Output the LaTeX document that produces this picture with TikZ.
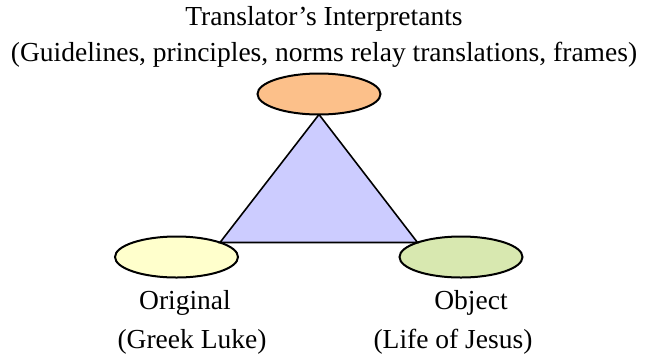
\documentclass[tikz,border=0pt]{standalone}
\usepackage{fontspec}
\setmainfont{Liberation Serif}
\usetikzlibrary{shapes.geometric}
\definecolor{interpfill}{RGB}{252,192,138}
\definecolor{origfill}{RGB}{255,255,204}
\definecolor{objfill}{RGB}{216,232,176}
\definecolor{trifill}{RGB}{204,204,255}
\tikzset{
  vertex/.style={ellipse, draw=black, line width=2pt, minimum width=123pt,
    minimum height=41pt, inner sep=0pt, outer sep=0pt},
  caption/.style={anchor=base, inner sep=0pt, font=\fontsize{27.5}{32}\selectfont}
}
\begin{document}
\begin{tikzpicture}[x=1pt,y=-1pt]
  \useasboundingbox (0,0) rectangle (645,357);
  % the three corners of the sign
  \node[vertex, fill=interpfill] (T) at (319,94) {};
  \node[vertex, fill=origfill] (L) at (176.5,257) {};
  \node[vertex, fill=objfill] (R) at (461,257) {};
  % triangle joining them
  \filldraw[fill=trifill, draw=black, line width=1.6pt, line join=miter]
    (T.south) -- (L.north east) -- (R.north west) -- cycle;
  % labels
  \node[caption] (t1) at (324,25) {Translator’s Interpretants};
  \node[caption] (t2) at (324,61) {(Guidelines, principles, norms relay translations, frames)};
  \node[caption] (l1) at (185,309) {Original};
  \node[caption] (l2) at (192,348) {(Greek Luke)};
  \node[caption] (r1) at (471,309) {Object};
  \node[caption] (r2) at (453,348) {(Life of Jesus)};
\end{tikzpicture}
\end{document}
